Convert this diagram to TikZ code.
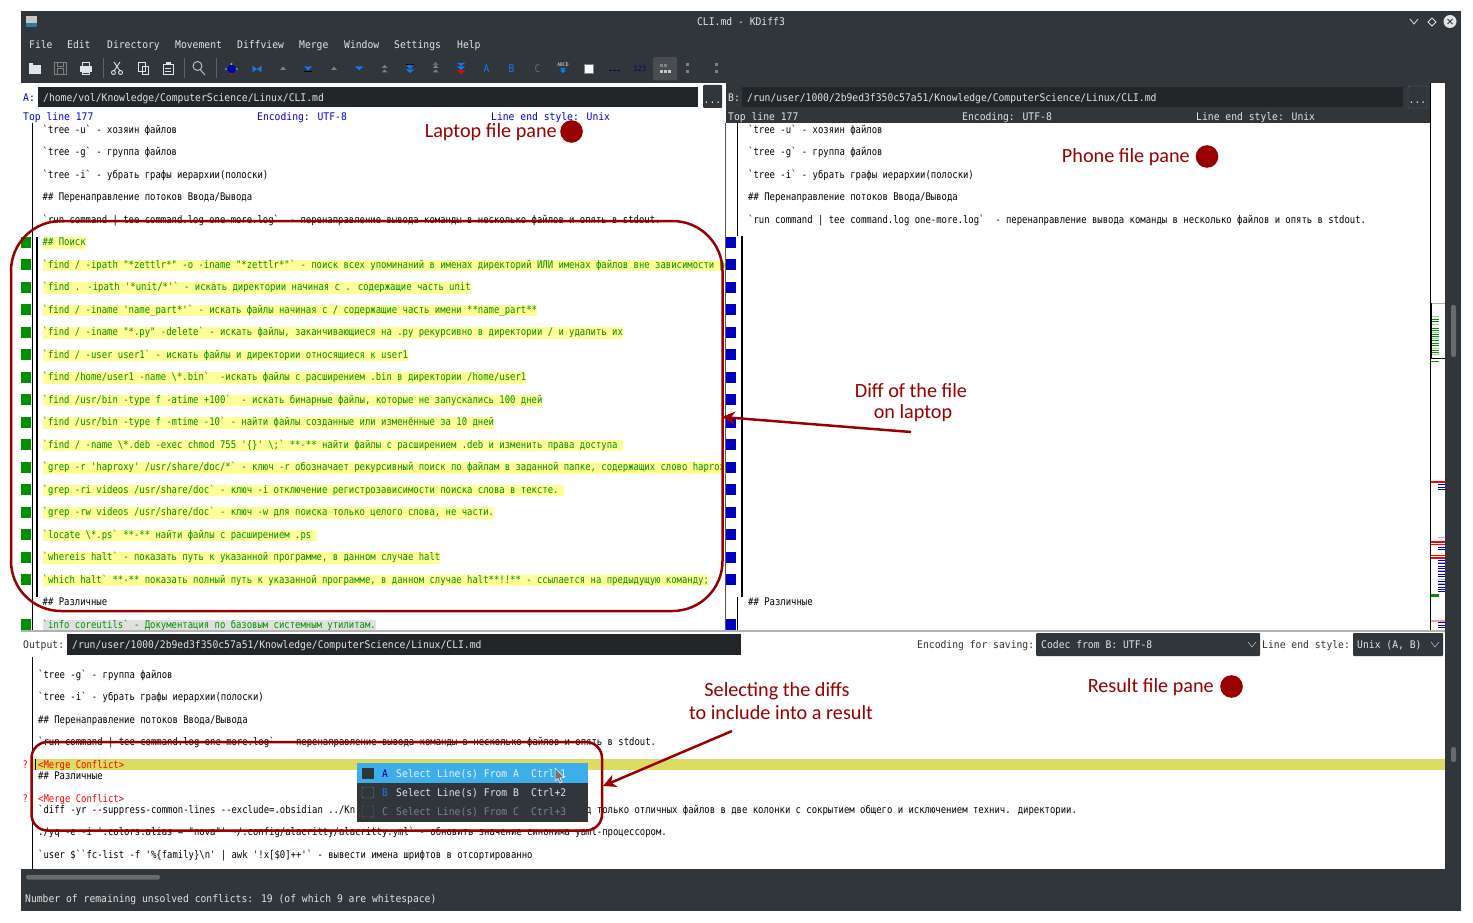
\documentclass[tikz,border=0pt]{standalone}
\usepackage{fontspec}
\usepackage{xcolor}
\usetikzlibrary{arrows.meta}
\setmainfont{Carlito}
\newfontfamily\codefont[FakeStretch=0.85]{DejaVu Sans Mono}
\newfontfamily\uifont[FakeStretch=0.925]{DejaVu Sans Mono}
\definecolor{windark}{RGB}{49,54,59}
\definecolor{fielddark}{RGB}{35,38,41}
\definecolor{uilight}{RGB}{225,228,230}
\definecolor{notered}{RGB}{153,0,0}
\definecolor{diffgreen}{RGB}{0,144,0}
\definecolor{diffblue}{RGB}{0,0,192}
\definecolor{diffyellow}{RGB}{255,255,153}
\definecolor{conflictyellow}{RGB}{220,220,100}
\definecolor{kdeblue}{RGB}{61,174,233}
\definecolor{iconblue}{RGB}{20,120,240}
\tikzset{ codeline/.style = {anchor=west, inner sep=0pt, yshift=-0.9pt, text height=8.5pt, text depth=3pt, font=\codefont\fontsize{10.5}{12}\selectfont} }
\tikzset{ diffline/.style = {codeline, fill=diffyellow, text=diffgreen} }
\tikzset{ uitext/.style = {anchor=west, inner sep=0pt, yshift=-1.3pt, text height=8.5pt, text depth=3pt, text=uilight, font=\uifont\fontsize{10.5}{12}\selectfont} }
\tikzset{ bluetext/.style = {uitext, text=blue!85!black} }
\tikzset{ darktext/.style = {uitext, text=black!80} }
\tikzset{ note/.style = {inner sep=0pt, text=notered, font=\fontsize{20.2}{24}\selectfont} }
\tikzset{ notearrow/.style = {draw=notered, line width=2.5pt, -{Stealth[length=13pt,width=13pt]}} }
\tikzset{ notebox/.style = {draw=notered, line width=2.5pt} }
\tikzset{ iconline/.style = {draw=uilight, line width=0.9pt} }

\begin{document}
\begin{tikzpicture}[x=1pt, y=-1pt]
        \useasboundingbox (0, 0) rectangle (1473, 923);
        \fill[white] (0, 0) rectangle (1473, 923);
        % window frame
        \fill[windark] (21, 11) rectangle (1461, 83);
        \fill[windark] (1445, 83) rectangle (1461, 869);
        \fill[windark] (21, 869) rectangle (1461, 911);
        \fill[windark] (726, 83) rectangle (1431, 123);
        % title bar
        \fill[uilight!70!gray] (26, 16) rectangle (37, 27);
        \fill[kdeblue!70!black] (26, 23) rectangle (37, 27);
        \node [uitext, anchor=center] (title) at (741, 21.5) {CLI.md - KDiff3};
        \draw[uilight, line width=0.8pt] (1410, 19) -- (1414, 24) -- (1418, 19);
        \draw[uilight, line width=0.8pt] (1432, 18) -- (1436, 22) -- (1432, 26) -- (1428, 22) -- cycle;
        \fill[uilight] (1450, 21.5) circle (6.5);
        \draw[windark, line width=1pt] (1447.5, 19) -- (1452.5, 24) (1452.5, 19) -- (1447.5, 24);
        % menu bar
        \node [uitext] (mfile) at (29, 44) {File};
        \node [uitext] (medit) at (67, 44) {Edit};
        \node [uitext] (mdir) at (107, 44) {Directory};
        \node [uitext] (mmove) at (175, 44) {Movement};
        \node [uitext] (mview) at (237, 44) {Diffview};
        \node [uitext] (mmerge) at (299, 44) {Merge};
        \node [uitext] (mwin) at (344, 44) {Window};
        \node [uitext] (mset) at (394, 44) {Settings};
        \node [uitext] (mhelp) at (457, 44) {Help};
        % toolbar
        \foreach \x in {103, 184, 216} \draw[gray!60!windark] (\x, 58) -- (\x, 78);
        \fill[uilight] (29, 63) rectangle (41, 74);
        \fill[windark] (33, 63) rectangle (41, 65.5);
        \draw[gray, line width=0.9pt] (54.5, 62.5) rectangle (66, 74);
        \draw[gray, line width=0.9pt] (57, 68) rectangle (63.5, 74) (57, 62.5) rectangle (63, 66);
        \fill[uilight] (80, 66) rectangle (92, 72);
        \draw[iconline] (82.5, 62.5) rectangle (89.5, 66) (82.5, 72) rectangle (89.5, 74.5);
        \draw[iconline] (114, 62) -- (120, 71) (120, 62) -- (114, 71);
        \draw[iconline] (113.5, 72.5) circle (2) (120.5, 72.5) circle (2);
        \draw[iconline] (138.5, 62.5) rectangle (145, 71) (142, 66) rectangle (148, 74.5);
        \draw[iconline] (163, 64) rectangle (173, 74.5);
        \fill[uilight] (165.5, 62) rectangle (170.5, 65.5);
        \draw[uilight] (165, 68) -- (171, 68) (165, 71) -- (171, 71);
        \draw[uilight!70!gray, line width=0.9pt] (197.5, 66) circle (4.5) (200.5, 70) -- (205, 75);
        \fill[blue!70!black] (231.5, 69) circle (4.2);
        \fill[kdeblue] (226, 69) circle (1.2) (237, 69) circle (1.2);
        \fill[yellow!70!black] (231.5, 64) circle (1.2);
        \fill[red] (231.5, 74) circle (1.2);
        \fill[iconblue] (253, 66) -- (257, 69) -- (253, 72) -- cycle (261, 66) -- (257, 69) -- (261, 72) -- cycle;
        \draw[black!70] (252.5, 65) -- (252.5, 73) (261.5, 65) -- (261.5, 73);
        \foreach \x in {283, 334} \fill[gray] (\x, 66.5) -- (\x + 3, 70) -- (\x - 3, 70) -- cycle;
        \foreach \x in {308, 359} \fill[iconblue] (\x - 4, 66.5) -- (\x + 4, 66.5) -- (\x, 70.5) -- cycle;
        \fill[black] (304, 71.5) rectangle (312, 72.5);
        \foreach \x in {384.5, 435.5} {
                \fill[gray] (\x, 65) -- (\x + 3, 68) -- (\x - 3, 68) -- cycle;
                \fill[gray] (\x, 69.5) -- (\x + 3, 72.5) -- (\x - 3, 72.5) -- cycle;
        }
        \fill[gray!70!windark] (435.5, 62) -- (438.5, 65) -- (432.5, 65) -- cycle;
        \fill[black] (406, 64) rectangle (414, 65);
        \fill[iconblue] (406, 65.5) -- (414, 65.5) -- (410, 69) -- cycle (406, 69.5) -- (414, 69.5) -- (410, 73) -- cycle;
        \fill[iconblue] (457, 63) -- (465, 63) -- (461, 66) -- cycle (457, 66.5) -- (465, 66.5) -- (461, 70) -- cycle;
        \fill[red] (457, 70.5) -- (465, 70.5) -- (461, 74) -- cycle;
        \node [uitext, anchor=center, text=iconblue] (toola) at (486.5, 68) {A};
        \node [uitext, anchor=center, text=iconblue] (toolb) at (511.5, 68) {B};
        \node [uitext, anchor=center, text=gray!70!windark] (toolc) at (537.5, 68) {C};
        \node [uitext, anchor=center, text height=4pt, text depth=0pt, font=\uifont\fontsize{5}{6}\selectfont] (toolabc) at (563, 63.5) {ABCD};
        \fill[iconblue] (560, 68) -- (566, 68) -- (563, 70.5) -- cycle (560, 70.5) -- (566, 70.5) -- (563, 73) -- cycle;
        \draw[gray, fill=white] (584.5, 64) rectangle (593, 73);
        \foreach \x in {609, 613, 617} \fill[blue!50!black] (\x, 70) rectangle +(3, 1.5);
        \node [uitext, anchor=center, text height=5pt, text depth=0pt, text=blue!50!black, font=\uifont\fontsize{7.5}{8}\selectfont] (tool123) at (640, 67.5) {123};
        \fill[gray!30!windark, rounded corners=2pt] (653, 57) rectangle (677, 80.5);
        \foreach \x in {660, 664} \fill[gray] (\x, 64) rectangle +(3, 3);
        \foreach \x in {660, 664, 668} \fill[uilight!70!gray] (\x, 70) rectangle +(3, 3);
        \foreach \x in {687, 716} {
                \fill[gray] (\x - 1.5, 63.5) rectangle +(3, 3);
                \fill[gray] (\x - 1.5, 70) rectangle +(3, 3);
        }
        % file pane A header
        \node [bluetext] (alabel) at (23, 97) {A:};
        \fill[fielddark] (38, 87) rectangle (698, 107);
        \node [uitext] (apath) at (43, 97) {/home/vol/Knowledge/ComputerScience/Linux/CLI.md};
        \fill[windark, rounded corners=1pt] (703, 85) rectangle (722, 108);
        \node [uitext, anchor=center] (abtn) at (712.5, 99) {...};
        \node [bluetext] (atop) at (23, 116) {Top line 177};
        \node [bluetext] (aenc) at (257, 116) {Encoding: UTF-8};
        \node [bluetext] (aend) at (491, 116) {Line end style: Unix};
        % file pane B header
        \node [uitext] (blabel) at (728, 97) {B:};
        \fill[fielddark] (742, 87) rectangle (1403, 107);
        \node [uitext] (bpath) at (747, 97) {/run/user/1000/2b9ed3f350c57a51/Knowledge/ComputerScience/Linux/CLI.md};
        \draw[gray!60!windark, fill=windark, rounded corners=1pt] (1408, 86) rectangle (1427, 108);
        \node [uitext, anchor=center] (bbtn) at (1417.5, 99) {...};
        \node [uitext] (btop) at (728, 116) {Top line 177};
        \node [uitext] (benc) at (962, 116) {Encoding: UTF-8};
        \node [uitext] (bend) at (1196, 116) {Line end style: Unix};
        % file pane A
        \draw[black, line width=0.8pt] (32, 123) -- (32, 630);
        \draw[gray!70!black, line width=0.8pt] (725.5, 123) -- (725.5, 630);
        \draw[black, line width=2pt] (37, 237) -- (37, 597);
        \foreach \y in {242, 264.5, 287, 309.5, 332, 354.5, 377, 399.5, 422, 444.5, 467, 489.5, 512, 534.5, 557, 579.5, 624.5} {
                \fill[diffgreen] (21, \y - 5.5) rectangle (31, \y + 5.5);
                \fill[diffblue] (726, \y - 5.5) rectangle (736, \y + 5.5);
        }
        \begin{scope}
                \clip (38, 123) rectangle (725, 630);
                \node [codeline] (a1) at (42.5, 129.5) {`tree -u` - хозяин файлов};
                \node [codeline] (a2) at (42.5, 152) {`tree -g` - группа файлов};
                \node [codeline] (a3) at (42.5, 174.5) {`tree -i` - убрать графы иерархии(полоски)};
                \node [codeline] (a4) at (42.5, 197) {\#\# Перенаправление потоков Ввода/Вывода};
                \node [codeline] (a5) at (42.5, 219.5) {`run command | tee command.log one-more.log`~~- перенаправление вывода команды в несколько файлов и опять в stdout.};
                \node [diffline] (a6) at (42.5, 242) {\#\# Поиск};
                \node [diffline] (a7) at (42.5, 264.5) {`find / -ipath "*zettlr*" -o -iname "*zettlr*"` - поиск всех упоминаний в именах директорий ИЛИ именах файлов вне зависимости регистра};
                \node [diffline] (a8) at (42.5, 287) {`find . -ipath '*unit/*'` - искать директории начиная с . содержащие часть unit};
                \node [diffline] (a9) at (42.5, 309.5) {`find / -iname 'name\_part*'` - искать файлы начиная с / содержащие часть имени **name\_part**};
                \node [diffline] (a10) at (42.5, 332) {`find / -iname "*.py" -delete` - искать файлы, заканчивающиеся на .py рекурсивно в директории / и удалить их};
                \node [diffline] (a11) at (42.5, 354.5) {`find / -user user1` - искать файлы и директории относящиеся к user1};
                \node [diffline] (a12) at (42.5, 377) {`find /home/user1 -name \textbackslash*.bin`~~-искать файлы с расширением .bin в директории /home/user1};
                \node [diffline] (a13) at (42.5, 399.5) {`find /usr/bin -type f -atime +100`~~- искать бинарные файлы, которые не запускались 100 дней};
                \node [diffline] (a14) at (42.5, 422) {`find /usr/bin -type f -mtime -10` - найти файлы созданные или изменённые за 10 дней};
                \node [diffline] (a15) at (42.5, 444.5) {`find / -name \textbackslash*.deb -exec chmod 755 '\{\}' \textbackslash;` **-** найти файлы с расширением .deb и изменить права доступа~\null};
                \node [diffline] (a16) at (42.5, 467) {`grep -r 'haproxy' /usr/share/doc/*` - ключ -r обозначает рекурсивный поиск по файлам в заданной папке, содержащих слово haproxy};
                \node [diffline] (a17) at (42.5, 489.5) {`grep -ri videos /usr/share/doc` - ключ -i отключение регистрозависимости поиска слова в тексте.~\null};
                \node [diffline] (a18) at (42.5, 512) {`grep -rw videos /usr/share/doc` - ключ -w для поиска только целого слова, не части.};
                \node [diffline] (a19) at (42.5, 534.5) {`locate \textbackslash*.ps` **-** найти файлы с расширением .ps~\null};
                \node [diffline] (a20) at (42.5, 557) {`whereis halt` - показать путь к указанной программе, в данном случае halt};
                \node [diffline] (a21) at (42.5, 579.5) {`which halt` **-** показать полный путь к указанной программе, в данном случае halt**!!** - ссылается на предыдущую команду;};
                \node [codeline] (a22) at (42.5, 602) {\#\# Различные};
                \node [diffline, fill=black!12] (a23) at (42.5, 624.5) {`info coreutils` - Документация по базовым системным утилитам.};
        \end{scope}
        % file pane B
        \draw[black, line width=0.8pt] (737, 123) -- (737, 236) (737, 597) -- (737, 630);
        \draw[black, line width=2pt] (742, 236) -- (742, 597);
        \node [codeline] (b1) at (748, 129.5) {`tree -u` - хозяин файлов};
        \node [codeline] (b2) at (748, 152) {`tree -g` - группа файлов};
        \node [codeline] (b3) at (748, 174.5) {`tree -i` - убрать графы иерархии(полоски)};
        \node [codeline] (b4) at (748, 197) {\#\# Перенаправление потоков Ввода/Вывода};
        \node [codeline] (b5) at (748, 219.5) {`run command | tee command.log one-more.log`~~- перенаправление вывода команды в несколько файлов и опять в stdout.};
        \node [codeline] (b6) at (748, 602) {\#\# Различные};
        % overview column
        \draw[black, line width=0.8pt] (1430.5, 83) -- (1430.5, 630);
        \foreach \y in {319, 321, 328, 330, 334, 336, 340, 343, 345, 350, 352, 360.5} \fill[diffgreen] (1431, \y) rectangle (1439, \y + 1.4);
        \foreach \y in {316, 324, 332, 338, 348, 354} \fill[diffgreen!40] (1431, \y) rectangle (1439, \y + 1.4);
        \foreach \y in {484, 487, 489, 547, 549, 560, 563, 566, 568, 571, 574, 576, 581, 584, 587, 589, 591, 622, 625, 627} \fill[diffblue] (1438, \y) rectangle (1445, \y + 1.3);
        \foreach \y in {537, 562, 570, 579, 583} \fill[diffblue!30] (1438, \y) rectangle (1445, \y + 1.3);
        \foreach \y in {481, 541, 543.5, 554.5, 557} \fill[red] (1431, \y) rectangle (1445, \y + 1.6);
        \fill[red!40] (1431, 620) rectangle (1445, 621.5);
        \fill[diffgreen] (1431, 594) rectangle (1439, 596.5);
        \draw[black, line width=0.8pt] (1445, 358.5) -- (1431.5, 358.5) -- (1431.5, 303);
        \draw[gray!60, line width=1pt] (1431.5, 303) -- (1445, 303);
        \fill[gray!70!windark, rounded corners=2pt] (1451, 305) rectangle (1456, 357);
        \fill[gray!70!windark, rounded corners=2pt] (1451, 747) rectangle (1456, 762);
        % output header
        \fill[gray!60] (21, 630) rectangle (1445, 631.5);
        \node [darktext] (olabel) at (23, 644.5) {Output:};
        \fill[fielddark] (67, 634) rectangle (741, 655);
        \node [uitext] (opath) at (72, 644.5) {/run/user/1000/2b9ed3f350c57a51/Knowledge/ComputerScience/Linux/CLI.md};
        \node [darktext] (oenc) at (917, 644.5) {Encoding for saving:};
        \fill[windark, rounded corners=1pt] (1036, 633) rectangle (1260, 656);
        \node [uitext] (ocodec) at (1041, 644.5) {Codec from B: UTF-8};
        \draw[uilight] (1248, 642) -- (1252, 647) -- (1256, 642);
        \node [darktext] (oend) at (1262, 644.5) {Line end style:};
        \fill[windark, rounded corners=1pt] (1353, 633) rectangle (1443, 656);
        \node [uitext] (ounix) at (1357, 644.5) {Unix (A, B)};
        \draw[uilight] (1431, 642) -- (1435, 647) -- (1439, 642);
        % output pane
        \draw[black, line width=0.8pt] (32, 657) -- (32, 869);
        \fill[conflictyellow] (33, 759) rectangle (1445, 770);
        \fill[black] (34.5, 759) rectangle (36, 770);
        \node [codeline] (o1) at (38, 674.5) {`tree -g` - группа файлов};
        \node [codeline] (o2) at (38, 697) {`tree -i` - убрать графы иерархии(полоски)};
        \node [codeline] (o3) at (38, 719.5) {\#\# Перенаправление потоков Ввода/Вывода};
        \node [codeline] (o4) at (38, 742) {`run command | tee command.log one-more.log`~~- перенаправление вывода команды в несколько файлов и опять в stdout.};
        \node [codeline, text=red] (o5) at (38, 764.5) {<Merge Conflict>};
        \node [codeline, text=red] (q1) at (22.5, 764.5) {?};
        \node [codeline] (o6) at (38, 776) {\#\# Различные};
        \node [codeline, text=red] (o7) at (38, 798.5) {<Merge Conflict>};
        \node [codeline, text=red] (q2) at (22.5, 798.5) {?};
        \node [codeline] (o8) at (38, 810) {`diff -yr --suppress-common-lines --exclude=.obsidian ../Kn};
        \node [codeline] (o9) at (586, 810) {д только отличных файлов в две колонки с сокрытием общего и исключением технич. директории.};
        \node [codeline] (o10) at (38, 832) {./yq -e -i '.colors.alias = "nova"' \textasciitilde/.config/alacritty/alacritty.yml` - обновить значение синонима yaml-процессором.};
        \node [codeline] (o11) at (38, 855) {`user \$``fc-list -f '\%\{family\}\textbackslash n' | awk '!x[\$0]++'` - вывести имена шрифтов в отсортированно};
        % popup menu
        \fill[windark] (356.5, 763) rectangle (587.5, 822);
        \fill[kdeblue] (356.5, 763) rectangle (587.5, 783);
        \fill[windark] (362, 768) rectangle (373.5, 779);
        \draw[gray, rounded corners=1pt] (362, 787) rectangle (373.5, 798);
        \draw[gray!60!windark, rounded corners=1pt] (362, 806) rectangle (373.5, 817);
        \node [uitext, anchor=center, text=blue!60!black] (pa) at (385, 773) {A};
        \node [uitext, anchor=center, text=iconblue] (pb) at (385, 792) {B};
        \node [uitext, anchor=center, text=gray] (pc) at (385, 811.5) {C};
        \node [uitext, text=white!85!kdeblue] (sela) at (396, 773) {Select Line(s) From A};
        \node [uitext] (selb) at (396, 792) {Select Line(s) From B};
        \node [uitext, text=gray] (selc) at (396, 811.5) {Select Line(s) From C};
        \node [uitext, text=white!85!kdeblue] (keya) at (531, 773) {Ctrl+1};
        \node [uitext] (keyb) at (531, 792) {Ctrl+2};
        \node [uitext, text=gray] (keyc) at (531, 811.5) {Ctrl+3};
        \draw[white, fill=windark!70, line width=0.5pt] (555, 768) -- (555, 781) -- (558, 778.5) -- (560, 783) -- (562, 782) -- (560, 778) -- (564, 777.5) -- cycle;
        % status bar
        \fill[gray!70!windark, rounded corners=2pt] (26, 875) rectangle (160, 879.5);
        \node [uitext] (status) at (25, 898) {Number of remaining unsolved conflicts: 19 (of which 9 are whitespace)};
        % annotations
        \draw[notebox, rounded corners=50pt] (11, 221) rectangle (722.5, 611);
        \draw[notebox, rounded corners=16pt] (31.5, 742) rectangle (602, 830.5);
        \node [note, anchor=east] (laptop) at (557, 132.5) {Laptop file pane};
        \fill[notered] (571.5, 131.5) circle (11.3);
        \node [note, anchor=east] (phone) at (1190, 157.5) {Phone file pane};
        \fill[notered] (1207, 156.5) circle (11.3);
        \node [note, anchor=east] (result) at (1214, 687.5) {Result file pane};
        \fill[notered] (1231.5, 686.5) circle (11.3);
        \node [note] (difffile) at (911, 391) {Diff of the file};
        \node [note] (onlaptop) at (913, 413.5) {on laptop};
        \node [note] (selecting) at (777, 691.5) {Selecting the diffs};
        \node [note] (include) at (781, 713) {to include into a result};
        \coordinate (diffstart) at (911, 432);
        \coordinate (difftip) at (722, 417);
        \coordinate (selstart) at (732, 731);
        \coordinate (seltip) at (603, 786);
        \draw[notearrow] (diffstart) to (difftip);
        \draw[notearrow] (selstart) to (seltip);
\end{tikzpicture}
\end{document}
